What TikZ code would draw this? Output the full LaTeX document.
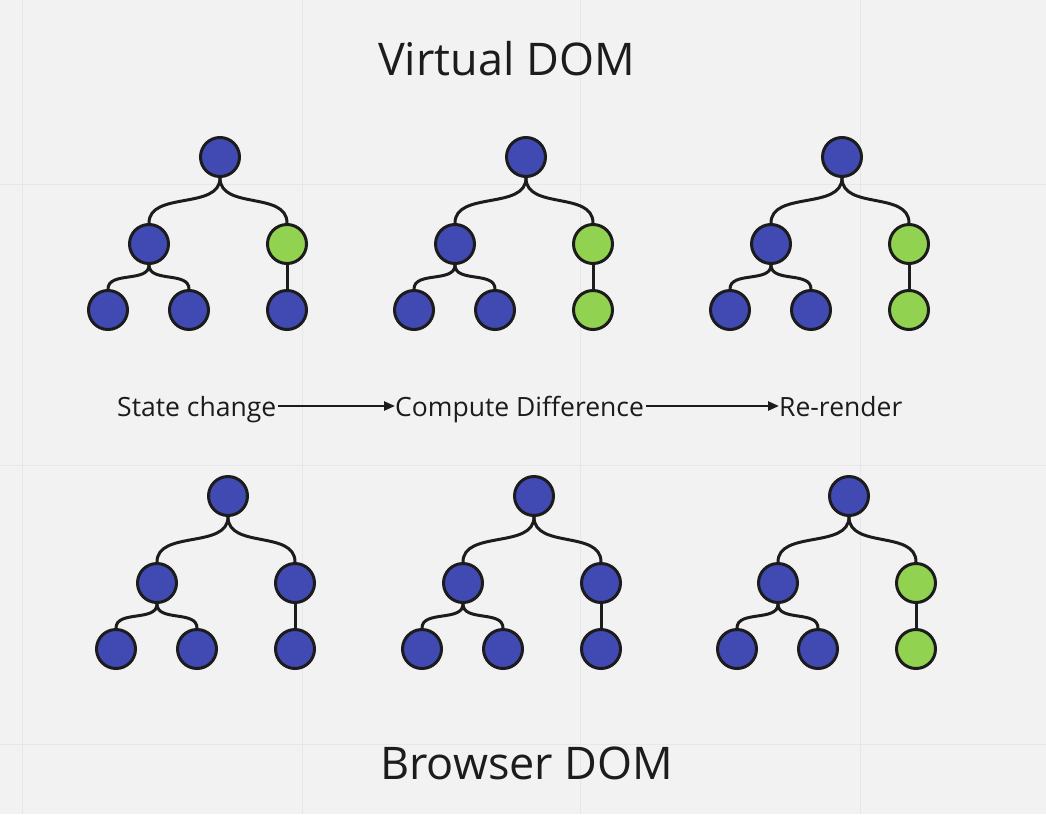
\documentclass[tikz,border=0pt]{standalone}
\usepackage{fontspec}
\setmainfont{Open Sans}
\usetikzlibrary{arrows.meta}
\definecolor{bg}{HTML}{F2F2F2}
\definecolor{gridc}{HTML}{E7E7E7}
\definecolor{nblue}{HTML}{404AB2}
\definecolor{ngreen}{HTML}{91D250}
\definecolor{ink}{HTML}{1C1C1C}
\tikzset{
  dnode/.style={circle, draw=ink, line width=3pt, minimum size=39pt, inner sep=0pt},
  conn/.style={draw=ink, line width=3pt},
  flow/.style={draw=ink, line width=2.4pt, -{Triangle[length=11pt,width=9pt]}},
  lbl/.style={font=\fontsize{26.5}{31}\selectfont, text=ink, inner sep=0pt, text height=20pt, text depth=0pt},
  title/.style={font=\fontsize{45}{54}\selectfont, text=ink, inner sep=0pt, anchor=base west}
}
\begin{document}
\begin{tikzpicture}[x=1pt,y=-1pt]
\fill[bg] (0,0) rectangle (1046,814);
\useasboundingbox (0,0) rectangle (1046,814);
\foreach \gx in {22,302,580,860} \draw[gridc, line width=1pt] (\gx,0) -- (\gx,814);
\foreach \gy in {184,465,744} \draw[gridc, line width=1pt] (0,\gy) -- (1046,\gy);

\node[title] (vdom) at (378,75) {Virtual DOM};
\node[title] (bdom) at (380,779) {Browser DOM};

\foreach \n/\x/\y/\cb/\cc in {
  t1/220/157/ngreen/nblue,
  t2/526/157/ngreen/ngreen,
  t3/842/157/ngreen/ngreen,
  b1/228/496/nblue/nblue,
  b2/534/496/nblue/nblue,
  b3/849/496/ngreen/ngreen}{
  \node[dnode, fill=nblue] (\n-r) at (\x,\y) {};
  \node[dnode, fill=nblue] (\n-a) at (\x-71,\y+87) {};
  \node[dnode, fill=\cb] (\n-b) at (\x+67,\y+87) {};
  \node[dnode, fill=nblue] (\n-c) at (\x-112,\y+153) {};
  \node[dnode, fill=nblue] (\n-d) at (\x-31,\y+153) {};
  \node[dnode, fill=\cc] (\n-e) at (\x+67,\y+153) {};
  \draw[conn] (\n-r.south) .. controls +(0,32) and +(0,-32) .. (\n-a.north);
  \draw[conn] (\n-r.south) .. controls +(0,32) and +(0,-32) .. (\n-b.north);
  \draw[conn] (\n-a.south) .. controls +(0,18) and +(0,-18) .. (\n-c.north);
  \draw[conn] (\n-a.south) .. controls +(0,18) and +(0,-18) .. (\n-d.north);
  \draw[conn] (\n-b.south) -- (\n-e.north);
}

\node[lbl, anchor=base west] (sc) at (117,416) {State change};
\node[lbl, anchor=base west] (cd) at (395,416) {Compute Difference};
\node[lbl, anchor=base west] (rr) at (779,416) {Re-render};
\draw[flow] ([xshift=2pt]sc.east) -- (cd.west);
\draw[flow] ([xshift=2pt]cd.east) -- (rr.west);
\end{tikzpicture}
\end{document}
